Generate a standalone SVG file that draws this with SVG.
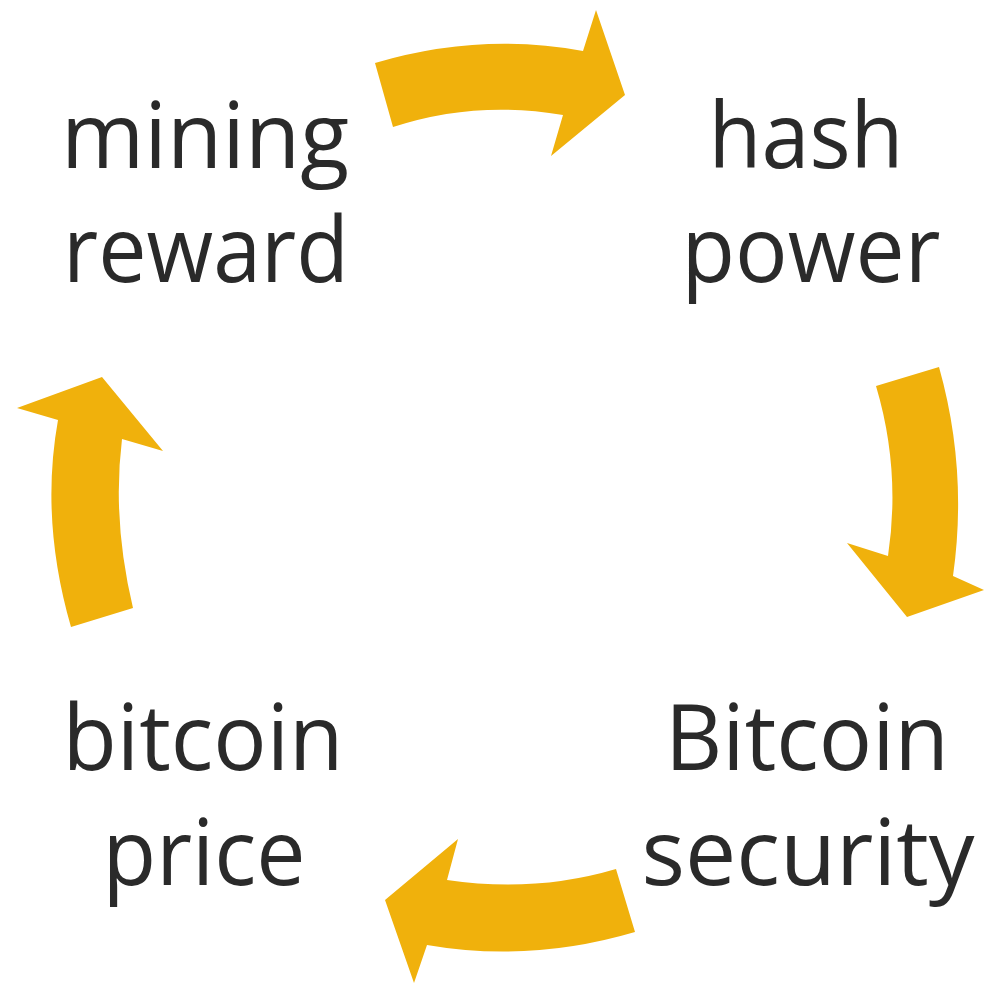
<svg xmlns="http://www.w3.org/2000/svg" width="984" height="983" viewBox="0 0 984 983">
  <style>
    .arrow { fill: #F0B10C; stroke: none; }
    .label { font-family: "Open Sans", "Lato", "Liberation Sans", sans-serif; font-size: 92px; fill: #2A2A2A; text-anchor: middle; }
  </style>
  <rect width="984" height="983" fill="#FFFFFF"/>
  <g id="connectors">
    <path class="arrow" d="M 375,63 Q 480,32 583,51 L 596,10 L 625,95 L 551,156 L 563,115 Q 475,100 393,127 Z"/>
    <path class="arrow" d="M 876,386 L 939,367 Q 968,470 953,576 L 984,590 L 907,617 L 847,543 L 888,556 Q 901,470 876,386 Z"/>
    <path class="arrow" d="M 616,869 L 635,932 Q 530,963 427,945 L 414,983 L 385,900 L 458,839 L 447,880 Q 535,893 616,869 Z"/>
    <path class="arrow" d="M 71,627 Q 40,520 58,420 L 17,408 L 102,377 L 163,451 L 122,439 Q 112,520 133,608 Z"/>
  </g>
  <g id="mining-reward">
    <text class="label"><tspan x="205" y="168" textLength="288" lengthAdjust="spacingAndGlyphs">mining</tspan><tspan x="206" y="282" textLength="286" lengthAdjust="spacingAndGlyphs">reward</tspan></text>
  </g>
  <g id="hash-power">
    <text class="label"><tspan x="806" y="168" textLength="195" lengthAdjust="spacingAndGlyphs">hash</tspan><tspan x="811" y="282" textLength="259" lengthAdjust="spacingAndGlyphs">power</tspan></text>
  </g>
  <g id="bitcoin-security">
    <text class="label"><tspan x="807" y="770" textLength="284" lengthAdjust="spacingAndGlyphs">Bitcoin</tspan><tspan x="808" y="885" textLength="333" lengthAdjust="spacingAndGlyphs">security</tspan></text>
  </g>
  <g id="bitcoin-price">
    <text class="label"><tspan x="203" y="770" textLength="281" lengthAdjust="spacingAndGlyphs">bitcoin</tspan><tspan x="204" y="885" textLength="203" lengthAdjust="spacingAndGlyphs">price</tspan></text>
  </g>
</svg>
